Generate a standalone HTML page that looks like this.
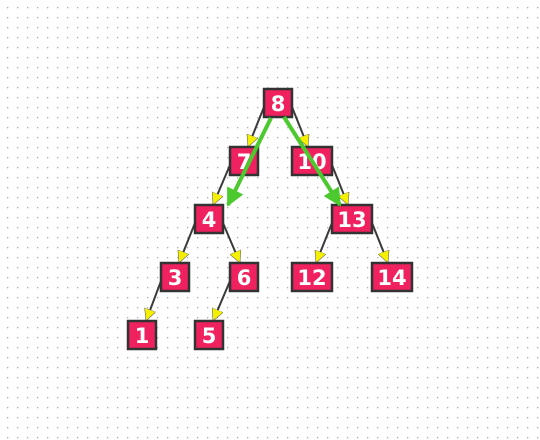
<!DOCTYPE html>
<html><head><meta charset="utf-8"><style>
html,body{margin:0;padding:0;background:#fff}
svg{display:block}
</style></head><body>
<svg id="c" width="540" height="440" xmlns="http://www.w3.org/2000/svg">
<defs>
<pattern id="dots" x="7" y="7" width="10" height="10" patternUnits="userSpaceOnUse"><rect width="1.3" height="1.3" fill="#aaa"/></pattern>
<marker id="ya" viewBox="0 0 12 12" refX="12" refY="6" markerWidth="12" markerHeight="12" orient="auto" markerUnits="userSpaceOnUse"><path d="M0,0 L12,6 L0,12 z" fill="#f4f000" stroke="#666" stroke-width="0.6"/></marker>
<marker id="ga" viewBox="0 0 10 10" refX="9" refY="5" markerWidth="20" markerHeight="18" orient="auto" markerUnits="userSpaceOnUse"><path d="M0,0 L10,5 L0,10 z" fill="#4cc92e"/></marker>
</defs>
<rect width="540" height="440" fill="url(#dots)"/>
<g id="edges"></g><g id="nodes"></g><g id="hl"></g>
</svg>
<script>
const labels=["8","7","10","4","13","3","6","12","14","1","5"];
const xs=[278,244,312,209,352,175,244,312,392,142,209];
const ys=[103,161,161,219,219,277,277,277,277,335,335];
const parents=[-1,0,0,1,2,3,3,4,4,5,6];
const ns="http://www.w3.org/2000/svg";
const E=document.getElementById('edges'),N=document.getElementById('nodes'),H=document.getElementById('hl');
function w(i){return labels[i].length>1?40:28;}
const h=28;
for(let i=0;i<labels.length;i++){
 const p=parents[i];if(p<0)continue;
 const left=xs[i]<xs[p];
 const x1=left?xs[p]-w(p)/2:xs[p]+w(p)/2, y1=ys[p]+4;
 const x2=left?xs[i]+4:xs[i]-4, y2=ys[i]-h/2;
 const l=document.createElementNS(ns,'line');
 l.setAttribute('x1',x1);l.setAttribute('y1',y1);l.setAttribute('x2',x2);l.setAttribute('y2',y2);
 l.setAttribute('stroke','#3a3a3a');l.setAttribute('stroke-width','2');l.setAttribute('marker-end','url(#ya)');
 
 
 E.appendChild(l);
}
for(let i=0;i<labels.length;i++){
 const g=document.createElementNS(ns,'g');
 
 
 const r=document.createElementNS(ns,'rect');
 r.setAttribute('x',xs[i]-w(i)/2);r.setAttribute('y',ys[i]-h/2);r.setAttribute('width',w(i));r.setAttribute('height',h);
 r.setAttribute('fill','#f0215f');r.setAttribute('stroke','#333');r.setAttribute('stroke-width','2.5');
 const t=document.createElementNS(ns,'text');
 t.setAttribute('x',xs[i]);t.setAttribute('y',ys[i]+8);t.setAttribute('text-anchor','middle');
 t.setAttribute('font-family','"DejaVu Sans","Liberation Sans",sans-serif');t.setAttribute('font-size','21');t.setAttribute('font-weight','bold');t.setAttribute('fill','#fff');
 t.textContent=labels[i];
 g.appendChild(r);g.appendChild(t);N.appendChild(g);
}
const hlFrom=[[271,118],[284,117]];
const hlTo=[3,4];
for(let k=0;k<hlTo.length;k++){
 const i=hlTo[k];
 const tx=xs[i]+(k===0?w(i)/2+5:-w(i)/2+8), ty=ys[i]-h/2;
 const l=document.createElementNS(ns,'line');
 l.setAttribute('x1',hlFrom[k][0]);l.setAttribute('y1',hlFrom[k][1]);l.setAttribute('x2',tx);l.setAttribute('y2',ty);
 l.setAttribute('stroke','#4cc92e');l.setAttribute('stroke-width','4');l.setAttribute('marker-end','url(#ga)');
 
 
 H.appendChild(l);
}
</script>
</body></html>
